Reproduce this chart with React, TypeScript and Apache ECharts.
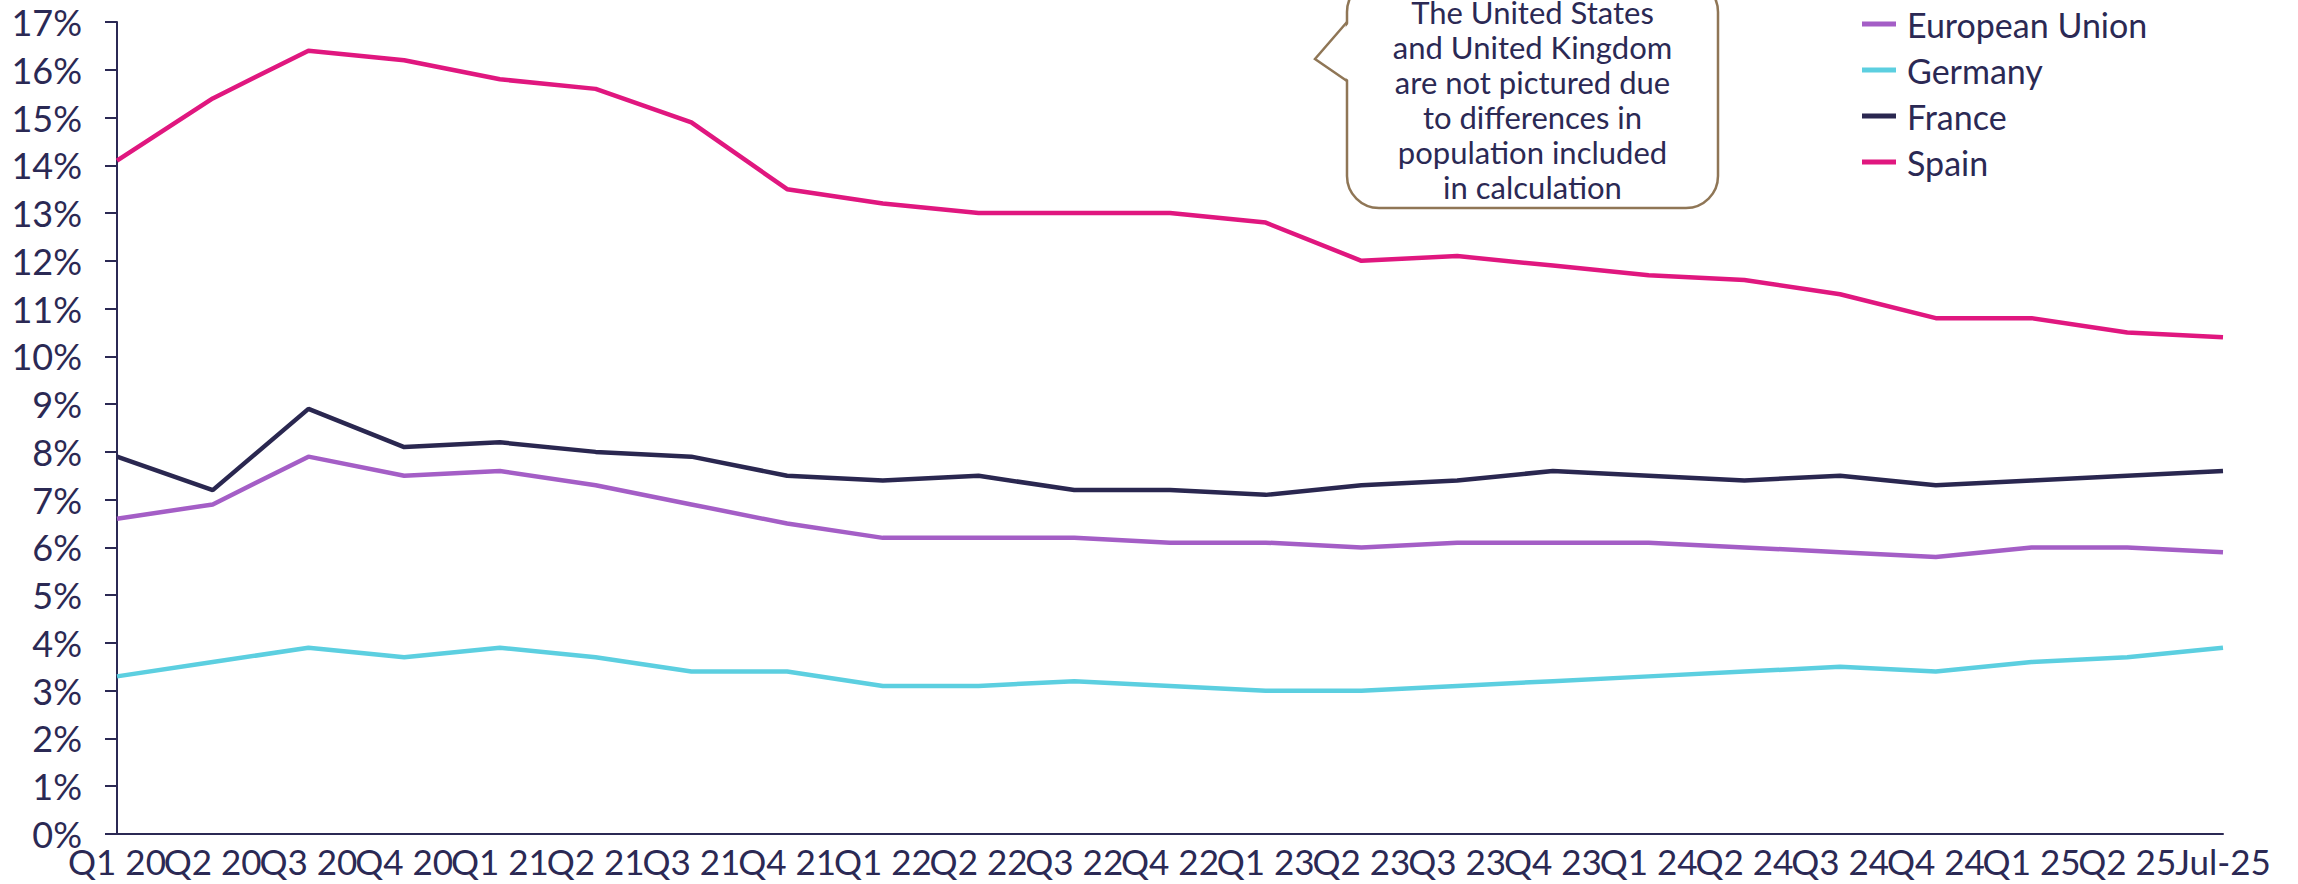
import React, { useEffect, useRef } from "react";
import * as echarts from "echarts";

const categories = [
  "Q1 20", "Q2 20", "Q3 20", "Q4 20",
  "Q1 21", "Q2 21", "Q3 21", "Q4 21",
  "Q1 22", "Q2 22", "Q3 22", "Q4 22",
  "Q1 23", "Q2 23", "Q3 23", "Q4 23",
  "Q1 24", "Q2 24", "Q3 24", "Q4 24",
  "Q1 25", "Q2 25", "Jul-25",
];

const europeanUnion = [6.6, 6.9, 7.9, 7.5, 7.6, 7.3, 6.9, 6.5, 6.2, 6.2, 6.2, 6.1, 6.1, 6.0, 6.1, 6.1, 6.1, 6.0, 5.9, 5.8, 6.0, 6.0, 5.9];
const germany = [3.3, 3.6, 3.9, 3.7, 3.9, 3.7, 3.4, 3.4, 3.1, 3.1, 3.2, 3.1, 3.0, 3.0, 3.1, 3.2, 3.3, 3.4, 3.5, 3.4, 3.6, 3.7, 3.9];
const france = [7.9, 7.2, 8.9, 8.1, 8.2, 8.0, 7.9, 7.5, 7.4, 7.5, 7.2, 7.2, 7.1, 7.3, 7.4, 7.6, 7.5, 7.4, 7.5, 7.3, 7.4, 7.5, 7.6];
const spain = [14.1, 15.4, 16.4, 16.2, 15.8, 15.6, 14.9, 13.5, 13.2, 13.0, 13.0, 13.0, 12.8, 12.0, 12.1, 11.9, 11.7, 11.6, 11.3, 10.8, 10.8, 10.5, 10.4];

const noteLines = [
  "The United States",
  "and United Kingdom",
  "are not pictured due",
  "to differences in",
  "population included",
  "in calculation",
];

const INK = "#2b2954";
const FONT = "Lato";

export default function App() {
  const ref = useRef<HTMLDivElement>(null);

  useEffect(() => {
    document.body.style.margin = "0";
    const chart = echarts.init(ref.current!, null, { renderer: "svg" });

    const mk = (name: string, data: number[], color: string) => ({
      name,
      type: "line",
      data,
      symbol: "none",
      lineStyle: { color, width: 4.5 },
      itemStyle: { color },
    });

    // Speech-bubble note: rounded box with a pointer on its left edge
    const boxLeft = 1347;
    const boxRight = 1718;
    const boxTop = -20;
    const boxBottom = 208;
    const cx = (boxLeft + boxRight) / 2;
    const noteLineHeight = 35;

    chart.setOption({
      animation: false,
      backgroundColor: "#ffffff",
      textStyle: { fontFamily: FONT, color: INK },
      grid: { left: 117, right: 75, top: 22, bottom: 50, containLabel: false },
      legend: {
        orient: "vertical",
        left: 1857,
        top: -1,
        icon: "rect",
        itemWidth: 34,
        itemHeight: 5,
        itemGap: 6,
        textStyle: { fontFamily: FONT, fontSize: 34, color: INK, lineHeight: 40, padding: [0, 0, 0, 6] },
        data: ["European Union", "Germany", "France", "Spain"],
      },
      xAxis: {
        type: "category",
        data: categories,
        boundaryGap: false,
        axisLine: { lineStyle: { color: INK, width: 2 } },
        axisTick: { show: false },
        axisLabel: { interval: 0, color: INK, fontFamily: FONT, fontSize: 35, margin: 9 },
      },
      yAxis: {
        type: "value",
        min: 0,
        max: 17,
        interval: 1,
        splitLine: { show: false },
        axisLine: { show: true, lineStyle: { color: INK, width: 2 } },
        axisTick: { show: true, length: 12, lineStyle: { color: INK, width: 2 } },
        axisLabel: { formatter: "{value}%", color: INK, fontFamily: FONT, fontSize: 36, margin: 35 },
      },
      series: [
        mk("European Union", europeanUnion, "#a45ec6"),
        mk("Germany", germany, "#5ccfe0"),
        mk("France", france, "#2a2750"),
        mk("Spain", spain, "#e0177f"),
      ],
      graphic: [
        {
          type: "rect",
          shape: { x: boxLeft, y: boxTop, width: boxRight - boxLeft, height: boxBottom - boxTop, r: 32 },
          style: { fill: "#ffffff", stroke: "#8f7656", lineWidth: 2.5 },
          z: 10,
        },
        {
          type: "polygon",
          shape: { points: [[boxLeft + 3, 22], [1315 + 3, 59], [boxLeft + 3, 81]] },
          style: { fill: "#ffffff" },
          z: 11,
        },
        {
          type: "polyline",
          shape: { points: [[boxLeft, 22], [1315, 59], [boxLeft, 81]] },
          style: { stroke: "#8f7656", lineWidth: 2.5, fill: null },
          z: 12,
        },
        {
          type: "text",
          x: cx,
          y: 12 - noteLineHeight / 2,
          z: 13,
          style: {
            text: noteLines.join("\n"),
            fill: INK,
            fontFamily: FONT,
            fontSize: 31,
            lineHeight: noteLineHeight,
            align: "center",
            verticalAlign: "top",
          },
        },
      ],
    });

    return () => chart.dispose();
  }, []);

  return <div ref={ref} style={{ width: 2298, height: 884 }} />;
}
